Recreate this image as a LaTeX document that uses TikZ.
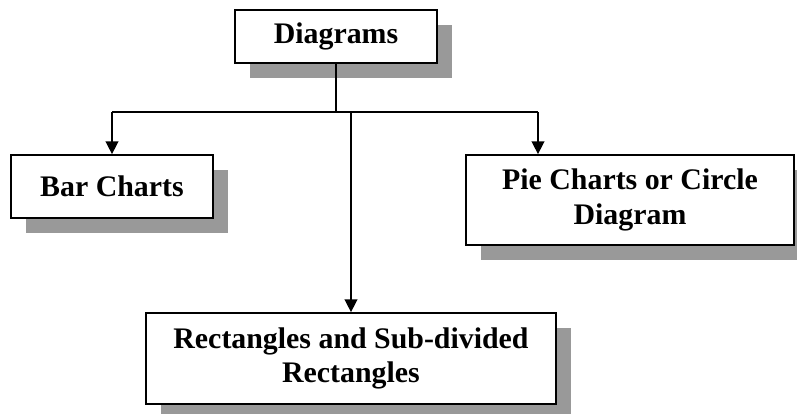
\documentclass[tikz,border=0pt]{standalone}
\usepackage{fontspec}
\setmainfont{Liberation Serif}
\usetikzlibrary{arrows.meta,shadows}
\begin{document}
\begin{tikzpicture}[x=0.75pt,y=-0.75pt,
  box/.style={draw=black, line width=1.3pt, fill=white, rectangle, inner sep=0pt,
    align=center, font=\fontsize{22.4}{26}\selectfont\bfseries,
    drop shadow={shadow xshift=11.25pt, shadow yshift=-11.25pt, fill=black!40, opacity=1, draw=none}},
  link/.style={draw=black, line width=1.1pt},
  arr/.style={link, -{Triangle[length=9.5pt,width=9.5pt]}}]
  \useasboundingbox (0,0) rectangle (797,414);

  % boxes (centre, width, height in pixel units)
  \node[box, minimum width=151.5pt, minimum height=39.75pt] (dia) at (336,36.5) {Diagrams};
  \node[box, minimum width=151.5pt, minimum height=47.25pt] (bar) at (112,186.5) {Bar Charts};
  \node[box, minimum width=246pt, minimum height=67.5pt] (pie) at (630,200) {Pie Charts or Circle\\Diagram};
  \node[box, minimum width=307.5pt, minimum height=68.25pt] (rec) at (351,358.5) {Rectangles and Sub-divided\\Rectangles};

  % branching connectors
  \coordinate (hl) at (112,112);
  \coordinate (hr) at (538,112);
  \draw[link] (dia.south) -- (dia.south |- hl);
  \draw[link] (hl) -- (hr);
  \draw[arr] (hl) -- (bar.north);
  \draw[arr] (hr) -- (hr |- pie.north);
  \draw[arr] (rec.north |- hl) -- (rec.north);
\end{tikzpicture}
\end{document}
